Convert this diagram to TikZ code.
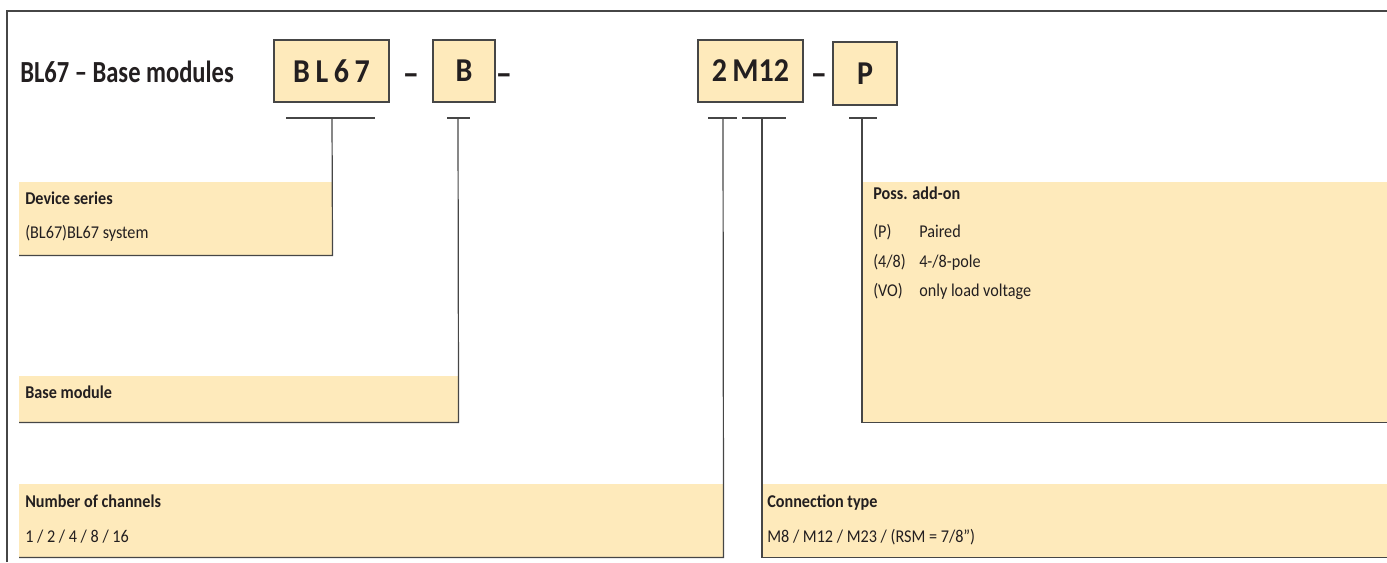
\documentclass[tikz,border=0pt]{standalone}
\usepackage{fontspec}
\setmainfont{Carlito}[FakeStretch=0.9]
\newfontfamily\titlefont{Carlito}[FakeStretch=0.8]
\definecolor{codefill}{RGB}{254,234,187}
\definecolor{ink}{RGB}{35,31,32}
\definecolor{rulegray}{RGB}{70,70,70}
\newcommand\pxu{0.75pt}

\begin{document}
\begin{tikzpicture}[
	x=0.75pt, y=-0.75pt,
	code/.style args = {#1 and #2}{
		rectangle, draw=rulegray, line width=1pt,
		fill=codefill, inner sep=0pt,
		minimum width={#1*\pxu}, minimum height={#2*\pxu},
		font=\bfseries\fontsize{25}{25}\selectfont, text=ink
	},
	desc/.style args = {#1 and #2}{
		rectangle, fill=codefill, inner sep=0pt,
		anchor=north west,
		minimum width={#1*\pxu}, minimum height={#2*\pxu}
	},
	head/.style = {anchor=base west, inner sep=0pt, text=ink,
		font=\bfseries\fontsize{13.5}{13.5}\selectfont},
	entry/.style = {anchor=base west, inner sep=0pt, text=ink,
		font=\fontsize{13.5}{13.5}\selectfont},
	sepdash/.style = {anchor=base, text=ink, inner sep=0pt,
		font=\bfseries\fontsize{27}{27}\selectfont},
	link/.style = {draw=rulegray, line width=0.9pt}
]
	\useasboundingbox (0,0) rectangle (1387,562);
	% frame
	\draw[rulegray, line width=1.2pt] (7,562) -- (7,11) -- (1387,11);
	\node[anchor=base west, inner sep=0pt, text=ink,
		font=\titlefont\bfseries\fontsize{23}{23}\selectfont] (title) at (20,82) {BL67 – Base modules};

	% type code
	\node [code=115 and 62] (bl)  at (331.5,71) {B\,L\,6\,7};
	\node [sepdash] (d1) at (411,85) {–};
	\node [code=62 and 62]  (b)   at (464,71) {B};
	\node [sepdash] (d2) at (504,85) {–};
	\node [code=105 and 62] (ctype) at (750.5,71) {2\kern4pt M12};
	\node [sepdash] (d3) at (819,85) {–};
	\node [code=64 and 63]  (p)   at (865,73.5) {P};

	% description boxes
	\node [desc=313 and 73] (ser)  at (19,182) {};
	\node [desc=439 and 46] (base) at (19,376) {};
	\node [desc=704 and 73] (chan) at (19,484) {};
	\node [desc=625 and 73] (con)  at (762,484) {};
	\node [desc=525 and 240] (add) at (862,182) {};

	\node [head]  at (25,204) {Device series};
	\node [entry] at (25,238) {(BL67)BL67 system};
	\node [head]  at (25,398) {Base module};
	\node [head]  at (25,507) {Number of channels};
	\node [entry] at (25,542) {1 / 2 / 4 / 8 / 16};
	\node [head]  at (767,507) {Connection type};
	\node [entry] at (767,542) {M8 / M12 / M23 / (RSM = 7/8")};
	\node [head]  at (873,199) {Poss. add-on};
	\node [entry] at (873,237) {(P)};
	\node [entry] at (919,237) {Paired};
	\node [entry] at (873,267) {(4/8)};
	\node [entry] at (919,267) {4-/8-pole};
	\node [entry] at (873,296) {(VO)};
	\node [entry] at (919,296) {only load voltage};

	% underlines and links
	\coordinate (ser-u)  at (332,118);
	\coordinate (base-u) at (458,118);
	\coordinate (chan-u) at (723,118);
	\coordinate (con-u)  at (762,118);
	\coordinate (add-u)  at (862,118);
	\draw[link] (286,118) -- (375,118);
	\draw[link] (447,118) -- (470,118);
	\draw[link] (708,118) -- (737,118);
	\draw[link] (742,118) -- (786,118);
	\draw[link] (849,118) -- (877,118);
	\draw[link] (ser-u)  -- (ser.south east)  -- (ser.south west);
	\draw[link] (base-u) -- (base.south east) -- (base.south west);
	\draw[link] (chan-u) -- (chan.south east) -- (chan.south west);
	\draw[link] (con-u)  -- (con.south west)  -- (con.south east);
	\draw[link] (add-u)  -- (add.south west)  -- (add.south east);
\end{tikzpicture}
\end{document}
